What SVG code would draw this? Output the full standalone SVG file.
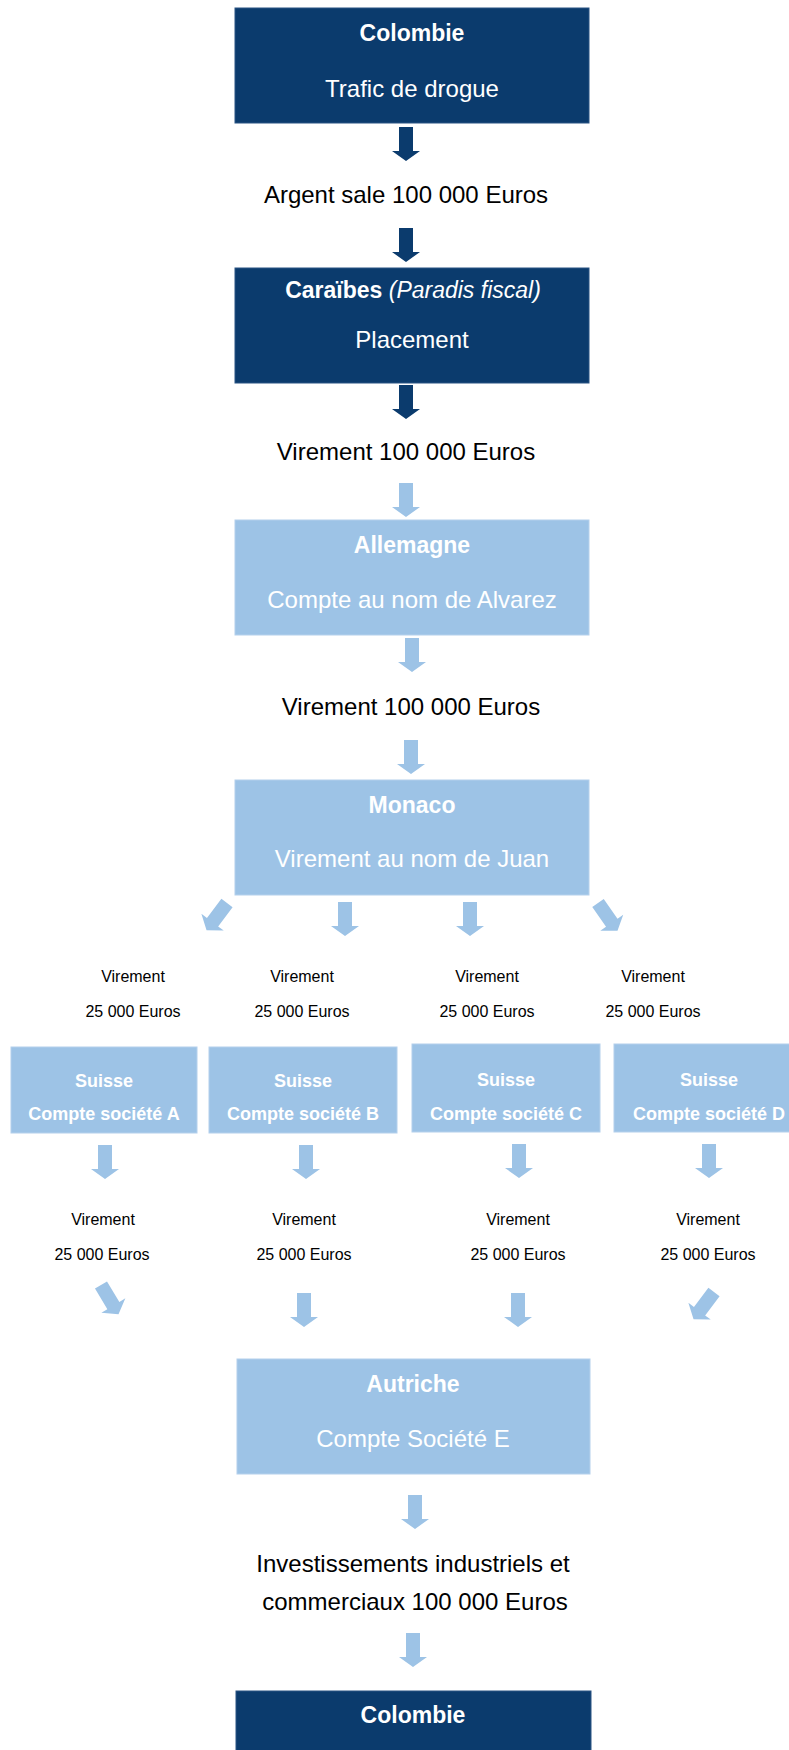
<svg xmlns="http://www.w3.org/2000/svg" width="789" height="1750" viewBox="0 0 789 1750">
<style>
.dark{fill:#0b3b6d;stroke:#2a5484;stroke-width:1}
.light{fill:#9dc3e6;stroke:#b4d0ec;stroke-width:1}
.bt{font-family:"Liberation Sans",Arial,sans-serif;text-anchor:middle;font-weight:bold;fill:#ffffff;font-size:23px}
.wt{font-family:"Liberation Sans",Arial,sans-serif;text-anchor:middle;fill:#ffffff;font-size:24px}
.lbl{font-family:"Liberation Sans",Arial,sans-serif;text-anchor:middle;fill:#000000;font-size:24px}
.sm{font-family:"Liberation Sans",Arial,sans-serif;text-anchor:middle;fill:#000000;font-size:16px}
.sw{font-family:"Liberation Sans",Arial,sans-serif;text-anchor:middle;fill:#ffffff;font-size:18px;font-weight:bold}
.ad{fill:#0b3b6d}
.al{fill:#9dc3e6}
</style>
<defs>
<path id="arr" d="M-7,0 H7 V24 H14 L0,34 L-14,24 H-7 Z"/>
</defs>

<g id="n-colombie1">
<rect class="dark" x="235" y="8" width="354" height="115"/>
<text class="bt" x="412" y="41">Colombie</text>
<text class="wt" x="412" y="97">Trafic de drogue</text>
</g>

<g id="n-argent">
<text class="lbl" x="406" y="203">Argent sale 100 000 Euros</text>
</g>

<g id="n-caraibes">
<rect class="dark" x="235" y="268" width="354" height="115"/>
<text class="bt" x="413" y="298">Caraïbes <tspan font-weight="normal" font-style="italic">(Paradis fiscal)</tspan></text>
<text class="wt" x="412" y="348">Placement</text>
</g>

<g id="n-virement1">
<text class="lbl" x="406" y="460">Virement 100 000 Euros</text>
</g>

<g id="n-allemagne">
<rect class="light" x="235" y="520" width="354" height="115"/>
<text class="bt" x="412" y="553">Allemagne</text>
<text class="wt" x="412" y="608">Compte au nom de Alvarez</text>
</g>

<g id="n-virement2">
<text class="lbl" x="411" y="715">Virement 100 000 Euros</text>
</g>

<g id="n-monaco">
<rect class="light" x="235" y="780" width="354" height="115"/>
<text class="bt" x="412" y="813">Monaco</text>
<text class="wt" x="412" y="867">Virement au nom de Juan</text>
</g>

<g id="n-v25-1">
<text class="sm" x="133" y="982">Virement</text>
<text class="sm" x="133" y="1017">25 000 Euros</text>
</g>
<g id="n-v25-2">
<text class="sm" x="302" y="982">Virement</text>
<text class="sm" x="302" y="1017">25 000 Euros</text>
</g>
<g id="n-v25-3">
<text class="sm" x="487" y="982">Virement</text>
<text class="sm" x="487" y="1017">25 000 Euros</text>
</g>
<g id="n-v25-4">
<text class="sm" x="653" y="982">Virement</text>
<text class="sm" x="653" y="1017">25 000 Euros</text>
</g>

<g id="n-suisse-a">
<rect class="light" x="11" y="1047" width="186" height="86"/>
<text class="sw" x="104" y="1087">Suisse</text>
<text class="sw" x="104" y="1120">Compte société A</text>
</g>
<g id="n-suisse-b">
<rect class="light" x="209" y="1047" width="188" height="86"/>
<text class="sw" x="303" y="1087">Suisse</text>
<text class="sw" x="303" y="1120">Compte société B</text>
</g>
<g id="n-suisse-c">
<rect class="light" x="412" y="1044" width="188" height="88"/>
<text class="sw" x="506" y="1086">Suisse</text>
<text class="sw" x="506" y="1120">Compte société C</text>
</g>
<g id="n-suisse-d">
<rect class="light" x="614" y="1044" width="190" height="88"/>
<text class="sw" x="709" y="1086">Suisse</text>
<text class="sw" x="709" y="1120">Compte société D</text>
</g>

<g id="n-v25-5">
<text class="sm" x="103" y="1225">Virement</text>
<text class="sm" x="102" y="1260">25 000 Euros</text>
</g>
<g id="n-v25-6">
<text class="sm" x="304" y="1225">Virement</text>
<text class="sm" x="304" y="1260">25 000 Euros</text>
</g>
<g id="n-v25-7">
<text class="sm" x="518" y="1225">Virement</text>
<text class="sm" x="518" y="1260">25 000 Euros</text>
</g>
<g id="n-v25-8">
<text class="sm" x="708" y="1225">Virement</text>
<text class="sm" x="708" y="1260">25 000 Euros</text>
</g>

<g id="n-autriche">
<rect class="light" x="237" y="1359" width="353" height="115"/>
<text class="bt" x="413" y="1392">Autriche</text>
<text class="wt" x="413" y="1447">Compte Société E</text>
</g>

<g id="n-invest">
<text class="lbl" x="413" y="1572">Investissements industriels et</text>
<text class="lbl" x="415" y="1610">commerciaux 100 000 Euros</text>
</g>

<g id="n-colombie2">
<rect class="dark" x="236" y="1691" width="355" height="80"/>
<text class="bt" x="413" y="1723">Colombie</text>
</g>

<g id="connectors">
<use href="#arr" class="ad" transform="translate(406,127)"/>
<use href="#arr" class="ad" transform="translate(406,228)"/>
<use href="#arr" class="ad" transform="translate(406,385)"/>
<use href="#arr" class="al" transform="translate(406,483)"/>
<use href="#arr" class="al" transform="translate(412,638)"/>
<use href="#arr" class="al" transform="translate(411,740)"/>
<use href="#arr" class="al" transform="translate(227,903) rotate(37)"/>
<use href="#arr" class="al" transform="translate(345,902)"/>
<use href="#arr" class="al" transform="translate(470,902)"/>
<use href="#arr" class="al" transform="translate(598,903) rotate(-35)"/>
<use href="#arr" class="al" transform="translate(105,1145)"/>
<use href="#arr" class="al" transform="translate(306,1145)"/>
<use href="#arr" class="al" transform="translate(519,1144)"/>
<use href="#arr" class="al" transform="translate(709,1144)"/>
<use href="#arr" class="al" transform="translate(101,1285) rotate(-31)"/>
<use href="#arr" class="al" transform="translate(304,1293)"/>
<use href="#arr" class="al" transform="translate(518,1293)"/>
<use href="#arr" class="al" transform="translate(714,1292) rotate(37)"/>
<use href="#arr" class="al" transform="translate(415,1495)"/>
<use href="#arr" class="al" transform="translate(413,1633)"/>
</g>
</svg>
